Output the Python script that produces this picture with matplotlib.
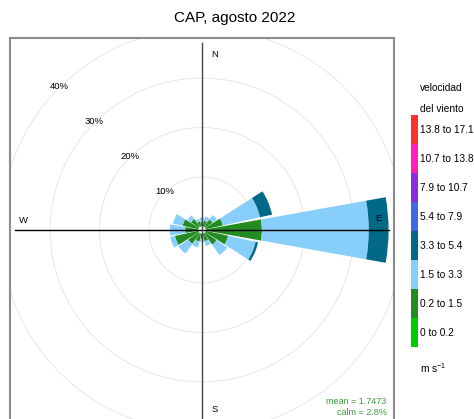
import numpy as np
import matplotlib.pyplot as plt
from matplotlib.patches import Wedge, Rectangle, Circle

plt.rcParams['font.family'] = ['Liberation Sans', 'DejaVu Sans']
plt.rcParams['mathtext.fontset'] = 'custom'
plt.rcParams['mathtext.rm'] = 'Liberation Sans'
plt.rcParams['mathtext.it'] = 'Liberation Sans'

# wind direction sectors (degrees from north)
directions = [0, 22.5, 45, 67.5, 90, 112.5, 135, 157.5,
              180, 202.5, 225, 247.5, 270, 292.5, 315, 337.5]

speed_bins = ['0 to 0.2', '0.2 to 1.5', '1.5 to 3.3', '3.3 to 5.4',
              '5.4 to 7.9', '7.9 to 10.7', '10.7 to 13.8', '13.8 to 17.1']
bin_colors = ['#00cc00', '#228b22', '#87cefa', '#006987',
              '#4169e1', '#8a2be2', '#ff1fb4', '#ff3030']

# frequency (%) per sector for each speed bin
f_0_02 = [0.1, 0.1, 0.1, 0.1, 0.2, 0.1, 0.1, 0.1, 0.1, 0.1, 0.1, 0.1, 0.1, 0.1, 0.1, 0.1]
f_02_15 = [0.9, 1.1, 1.8, 3.5, 11.2, 4.6, 2.8, 1.5, 1.0, 1.6, 2.6, 4.8, 2.6, 3.2, 1.9, 1.0]
f_15_33 = [0.8, 0.9, 1.1, 7.7, 21.6, 5.7, 2.6, 1.0, 0.6, 1.2, 2.4, 1.0, 3.1, 2.0, 0.9, 0.5]
f_33_54 = [0.0, 0.0, 0.0, 2.5, 4.0, 0.5, 0.0, 0.0, 0.0, 0.0, 0.0, 0.0, 0.0, 0.0, 0.0, 0.0]
f_54_79 = [0.0] * 16
f_79_107 = [0.0] * 16
f_107_138 = [0.0] * 16
f_138_171 = [0.0] * 16

mean_ws = 1.7473
calm = 2.8
grid_pct = [10, 20, 30, 40]

off = 0.7      # hole in the middle
half = 10.125  # half width of each wedge (0.9 * 22.5 / 2)
lim = 38.8

fig = plt.figure(figsize=(4.74, 4.19), dpi=100)
ax = fig.add_axes([10 / 474, -3 / 419, 384 / 474, 384 / 419])
ax.set_xlim(-lim, lim)
ax.set_ylim(-lim, lim)
ax.set_aspect('equal')
ax.set_xticks([])
ax.set_yticks([])
for s in ax.spines.values():
    s.set_color('#8c8c8c')
    s.set_linewidth(1.5)

# grid circles and labels
for p in grid_pct:
    ax.add_patch(Circle((0, 0), off + p, fill=False, color='#e3e3e3', lw=0.6))
    a = np.deg2rad(135)
    ax.text((off + p) * np.cos(a), (off + p) * np.sin(a) + 0.2, f'{p}%',
            fontsize=6.8, ha='center', va='center')

series = [f_0_02, f_02_15, f_15_33, f_33_54, f_54_79, f_79_107, f_107_138, f_138_171]
for i, wd in enumerate(directions):
    theta = 90 - wd
    base = off
    for vals, col in zip(series, bin_colors):
        v = vals[i]
        if v <= 0:
            continue
        ax.add_patch(Wedge((0, 0), base + v, theta - half, theta + half,
                           width=v, facecolor=col, edgecolor='none', zorder=2))
        base += v

ax.add_patch(Circle((0, 0), off, facecolor='white', edgecolor='none', zorder=3))

# axis lines
ax.plot([-37.8, 37.8], [0, 0], color='black', lw=1, zorder=4)
ax.plot([0, 0], [-40, 37.8], color='#444444', lw=1, zorder=4)

ax.text(2.5, 35.5, 'N', fontsize=6.8, ha='center', va='center')
ax.text(2.5, -36.2, 'S', fontsize=6.8, ha='center', va='center')
ax.text(-36.0, 2.0, 'W', fontsize=6.8, ha='center', va='center')
ax.text(35.6, 2.4, 'E', fontsize=6.8, ha='center', va='center', zorder=5)

ax.text(37.3, -34.6, f'mean = {mean_ws}', fontsize=6.5, color='#3c9c3c',
        ha='right', va='center')
ax.text(37.3, -36.8, f'calm = {calm}%', fontsize=6.5, color='#3c9c3c',
        ha='right', va='center')

fig.text(235 / 474, 1 - 18 / 419, 'CAP, agosto 2022', fontsize=11,
         ha='center', va='center')

# legend key
box_h = 29
top = 115
for k in range(len(speed_bins)):
    j = len(speed_bins) - 1 - k
    y0 = top + k * box_h
    fig.patches.append(Rectangle((411 / 474, 1 - (y0 + box_h) / 419), 7 / 474,
                                 box_h / 419, transform=fig.transFigure,
                                 facecolor=bin_colors[j], edgecolor='none'))
    fig.text(420 / 474, 1 - (y0 + box_h / 2) / 419, speed_bins[j],
             fontsize=7.3, ha='left', va='center')
fig.text(420 / 474, 1 - 88 / 419, 'velocidad', fontsize=7.3, ha='left', va='center')
fig.text(420 / 474, 1 - 109 / 419, 'del viento', fontsize=7.3, ha='left', va='center')
fig.text(420 / 474, 1 - 368 / 419, r'm s$^{-1}$', fontsize=7.3, ha='left', va='center')

fig.savefig('out.png', dpi=100)
